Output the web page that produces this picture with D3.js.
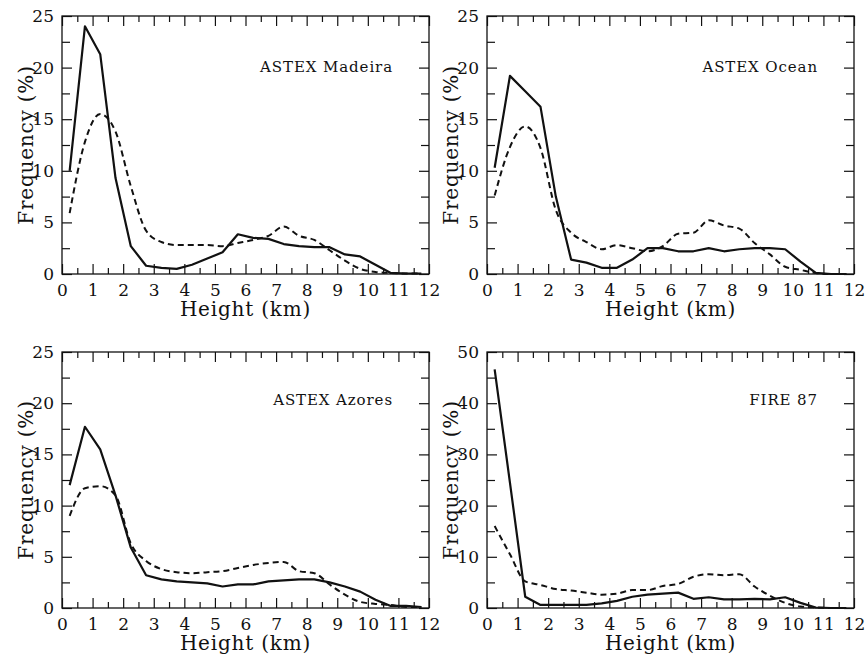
<!DOCTYPE html>
<html>
<head>
<meta charset="utf-8">
<script src="https://cdn.jsdelivr.net/npm/d3@7"></script>
<style>
  html,body{margin:0;padding:0;background:#fff;}
  svg{display:block;}
  .tick text{font-family:"DejaVu Serif",serif;font-size:17px;fill:#111;}
  .tick line{stroke:#111;stroke-width:1.2;}
  .ttl{font-family:"DejaVu Serif",serif;font-size:20px;fill:#111;letter-spacing:0.8px;}
  .lbl{font-family:"DejaVu Serif",serif;font-size:15px;fill:#111;letter-spacing:0.9px;}
</style>
</head>
<body>
<div id="chart"></div>
<script>
// bin centres (km)
var heights=[0.25,0.75,1.25,1.75,2.25,2.75,3.25,3.75,4.25,4.75,5.25,5.75,6.25,6.75,7.25,7.75,8.25,8.75,9.25,9.75,10.25,10.75,11.25,11.75];

var madeiraSolid =[10.0,24.0,21.3,9.3,2.7,0.8,0.6,0.5,0.9,1.5,2.1,3.85,3.5,3.4,2.9,2.7,2.6,2.6,1.9,1.7,0.9,0.1,0.05,0.05];
var madeiraDashed=[5.9,12.8,15.5,13.8,8.5,4.2,3.1,2.8,2.8,2.8,2.7,3.0,3.3,3.7,4.6,3.7,3.3,2.3,1.3,0.5,0.2,0.1,0.05,0.05];

var oceanSolid =[10.3,19.2,17.7,16.2,7.5,1.4,1.1,0.6,0.6,1.4,2.5,2.5,2.2,2.2,2.5,2.2,2.4,2.5,2.5,2.4,1.2,0.1,0.0,0.0];
var oceanDashed=[7.6,12.3,14.3,12.2,6.2,4.0,3.1,2.4,2.8,2.5,2.2,2.7,3.9,4.0,5.2,4.7,4.4,3.0,1.9,0.7,0.4,0.1,0.0,0.0];

var azoresSolid =[12.0,17.7,15.5,11.0,5.9,3.2,2.8,2.6,2.5,2.4,2.1,2.3,2.3,2.6,2.7,2.8,2.8,2.5,2.1,1.6,0.8,0.2,0.2,0.1];
var azoresDashed=[9.0,11.7,11.9,11.0,6.3,4.6,3.8,3.5,3.4,3.5,3.6,3.9,4.2,4.4,4.5,3.6,3.4,2.3,1.3,0.6,0.4,0.3,0.1,0.1];

var fireSolid =[46.6,24.5,2.2,0.6,0.6,0.6,0.6,0.9,1.4,2.2,2.6,2.8,3.0,1.8,2.1,1.7,1.7,1.8,1.7,2.1,1.0,0.1,0.0,0.0];
var fireDashed=[16.0,10.5,5.2,4.5,3.7,3.4,3.0,2.6,2.8,3.5,3.5,4.3,4.7,6.1,6.6,6.4,6.6,4.2,2.4,1.0,0.3,0.1,0.0,0.0];

var panelTitles=["ASTEX Madeira","ASTEX Ocean","ASTEX Azores","FIRE 87"];
var yMaxes=[25,25,25,50];
var xMajor=[0,1,2,3,4,5,6,7,8,9,10,11,12];
var xMinor=[0.5,1.5,2.5,3.5,4.5,5.5,6.5,7.5,8.5,9.5,10.5,11.5];
var yMajor25=[0,5,10,15,20,25], yMinor25=[2.5,7.5,12.5,17.5,22.5];
var yMajor50=[0,10,20,30,40,50], yMinor50=[5,15,25,35,45];

var W=867,H=654;
var svg=d3.select("#chart").append("svg").attr("width",W).attr("height",H);

var boxes=[{x:62,y:16,w:367,h:258},{x:487,y:16,w:367,h:258},
           {x:62,y:352,w:367,h:256},{x:487,y:352,w:367,h:256}];
var series=[[madeiraSolid,madeiraDashed],[oceanSolid,oceanDashed],[azoresSolid,azoresDashed],[fireSolid,fireDashed]];

boxes.forEach(function(b,i){
    var g=svg.append("g").attr("transform","translate("+b.x+","+b.y+")");
    var x=d3.scaleLinear().domain([0,12]).range([0,b.w]);
    var y=d3.scaleLinear().domain([0,yMaxes[i]]).range([b.h,0]);
    var yMaj=yMaxes[i]===50?yMajor50:yMajor25, yMin=yMaxes[i]===50?yMinor50:yMinor25;

    function clean(sel){sel.select(".domain").remove();}
    // bottom
    g.append("g").attr("transform","translate(0,"+b.h+")")
        .call(d3.axisBottom(x).tickValues(xMajor).tickSize(-10).tickPadding(10).tickFormat(d3.format("d"))).call(clean);
    g.append("g").attr("transform","translate(0,"+b.h+")")
        .call(d3.axisBottom(x).tickValues(xMinor).tickSize(-6).tickFormat("")).call(clean);
    // top
    g.append("g").call(d3.axisTop(x).tickValues(xMajor).tickSize(-10).tickFormat("")).call(clean);
    g.append("g").call(d3.axisTop(x).tickValues(xMinor).tickSize(-6).tickFormat("")).call(clean);
    // left
    g.append("g").call(d3.axisLeft(y).tickValues(yMaj).tickSize(-10).tickPadding(8).tickFormat(d3.format("d"))).call(clean);
    g.append("g").call(d3.axisLeft(y).tickValues(yMin).tickSize(-8).tickFormat("")).call(clean);
    // right
    g.append("g").attr("transform","translate("+b.w+",0)")
        .call(d3.axisRight(y).tickValues(yMaj).tickSize(-10).tickFormat("")).call(clean);
    g.append("g").attr("transform","translate("+b.w+",0)")
        .call(d3.axisRight(y).tickValues(yMin).tickSize(-8).tickFormat("")).call(clean);

    g.append("rect").attr("width",b.w).attr("height",b.h)
        .attr("fill","none").attr("stroke","#111").attr("stroke-width",1.3);

    var solid=d3.line().x(function(d,k){return x(heights[k]);}).y(function(d){return y(d);});
    var dashed=d3.line().curve(d3.curveMonotoneX).x(function(d,k){return x(heights[k]);}).y(function(d){return y(d);});

    g.append("path").datum(series[i][1]).attr("d",dashed)
        .attr("fill","none").attr("stroke","#111").attr("stroke-width",2).attr("stroke-dasharray","6,4");
    g.append("path").datum(series[i][0]).attr("d",solid)
        .attr("fill","none").attr("stroke","#111").attr("stroke-width",2.2).attr("stroke-linejoin","round");

    g.append("text").attr("class","lbl").attr("text-anchor","end")
        .attr("x",b.w-36).attr("y",i<2?56:53).text(panelTitles[i]);

    g.append("text").attr("class","ttl").attr("text-anchor","middle")
        .attr("x",b.w/2).attr("y",b.h+42).text("Height (km)");
    g.append("text").attr("class","ttl").attr("text-anchor","middle")
        .attr("transform","translate(-29,"+(b.h/2)+") rotate(-90)").text("Frequency (%)");
});
</script>
</body>
</html>
